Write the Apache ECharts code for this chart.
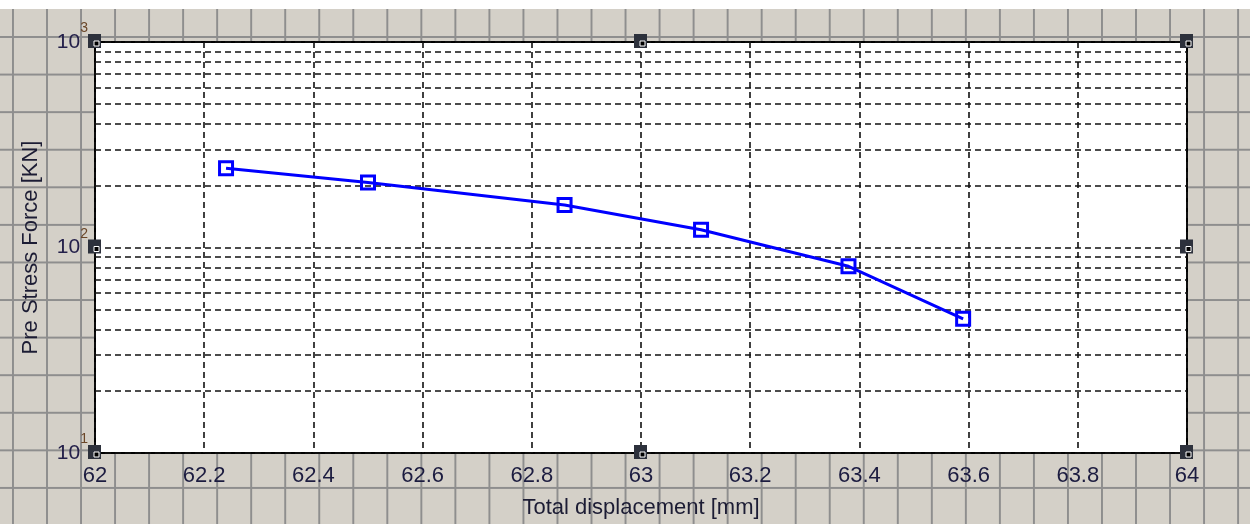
<!DOCTYPE html>
<html>
<head>
<meta charset="utf-8">
<script src="https://cdn.jsdelivr.net/npm/echarts@6/dist/echarts.min.js"></script>
<style>
html, body { margin: 0; padding: 0; background: #fff; }
#bg {
	position: absolute; left: 0; top: 9px; width: 1250px; height: 515px;
	background-color: #d4d0c8;
	background-image: linear-gradient(to right, #8e8e8e 0, #8e8e8e 2px, transparent 2px),
		linear-gradient(to bottom, #8e8e8e 0, #8e8e8e 2px, transparent 2px);
	background-size: 34.04px 100%, 100% 37.58px;
	background-position: 12px 0, 0 27px;
}
#mycharts { position: absolute; left: 0; top: 0; width: 1250px; height: 524px; }
</style>
</head>
<body>
<div id="bg"></div>
<div id="mycharts"></div>
<script>
// 数据
var displacement = [62.24, 62.50, 62.86, 63.11, 63.38, 63.59];
var force = [243, 207, 161, 122, 81, 45];
// 对数轴次网格
var minorLines = [20, 30, 40, 50, 60, 70, 80, 90, 200, 300, 400, 500, 600, 700, 800, 900];
// 手柄位置 (坐标值)
var handles = [[62, 1000], [63, 1000], [64, 1000], [62, 100], [64, 100], [62, 10], [63, 10], [64, 10]];

var font = 'Liberation Sans, Arial, sans-serif';
var dash = { color: '#111', width: 1.6, type: [6, 4] };

var myChart = echarts.init(document.getElementById('mycharts'));
var pts = [];
for (var i = 0; i < displacement.length; i++) {
	pts.push([displacement[i], force[i]]);
}
var marks = [];
for (var j = 0; j < minorLines.length; j++) {
	marks.push({ yAxis: minorLines[j] });
}
myChart.setOption({
	animation: false,
	backgroundColor: 'transparent',
	grid: {
		left: 95, right: 63, top: 42, bottom: 71,
		show: true, backgroundColor: '#fff', borderColor: '#000', borderWidth: 2
	},
	xAxis: {
		type: 'value', min: 62, max: 64, interval: 0.2,
		name: 'Total displacement [mm]', nameLocation: 'middle', nameGap: 44,
		nameTextStyle: { fontFamily: font, fontSize: 22, color: '#1c1c34' },
		axisLine: { show: false },
		axisTick: { show: false },
		axisLabel: {
			margin: 12, fontFamily: font, fontSize: 22, color: '#1c1c40',
			formatter: function(v) { return String(Math.round(v * 10) / 10); }
		},
		splitLine: { show: true, lineStyle: dash }
	},
	yAxis: {
		type: 'log', logBase: 10, min: 10, max: 1000,
		name: 'Pre Stress Force [KN]', nameLocation: 'middle', nameGap: 53,
		nameTextStyle: { fontFamily: font, fontSize: 22, color: '#1c1c34' },
		axisLine: { show: false },
		axisTick: { show: false },
		axisLabel: {
			margin: 7,
			formatter: function(v) {
				return '{b|10}{s|' + Math.round(Math.log(v) / Math.LN10) + '}';
			},
			rich: {
				b: { fontFamily: font, fontSize: 21, lineHeight: 21, color: '#24204a', verticalAlign: 'bottom' },
				s: { fontFamily: font, fontSize: 14, lineHeight: 14, color: '#6a4628', verticalAlign: 'bottom', padding: [0, 0, 17, 0] }
			}
		},
		splitLine: { show: true, lineStyle: dash }
	},
	series: [{
		type: 'line',
		data: pts,
		symbol: 'rect',
		symbolSize: 13,
		lineStyle: { color: '#0000ff', width: 3 },
		itemStyle: { color: 'transparent', borderColor: '#0000ff', borderWidth: 3 },
		markLine: {
			silent: true,
			symbol: ['none', 'none'],
			label: { show: false },
			lineStyle: dash,
			data: marks
		},
		z: 5
	}]
});

// 画角上的手柄
var gs = [];
for (var k = 0; k < handles.length; k++) {
	var p = myChart.convertToPixel({ gridIndex: 0 }, handles[k]);
	gs.push({ type: 'rect', z: 100, shape: { x: p[0] - 7, y: p[1] - 8, width: 13, height: 14 }, style: { fill: '#2d313c' } });
	gs.push({ type: 'rect', z: 101, shape: { x: p[0] - 1, y: p[1] - 1, width: 5, height: 5 }, style: { fill: '#000', stroke: '#fff', lineWidth: 1 } });
}
myChart.setOption({ graphic: gs });
</script>
</body>
</html>
